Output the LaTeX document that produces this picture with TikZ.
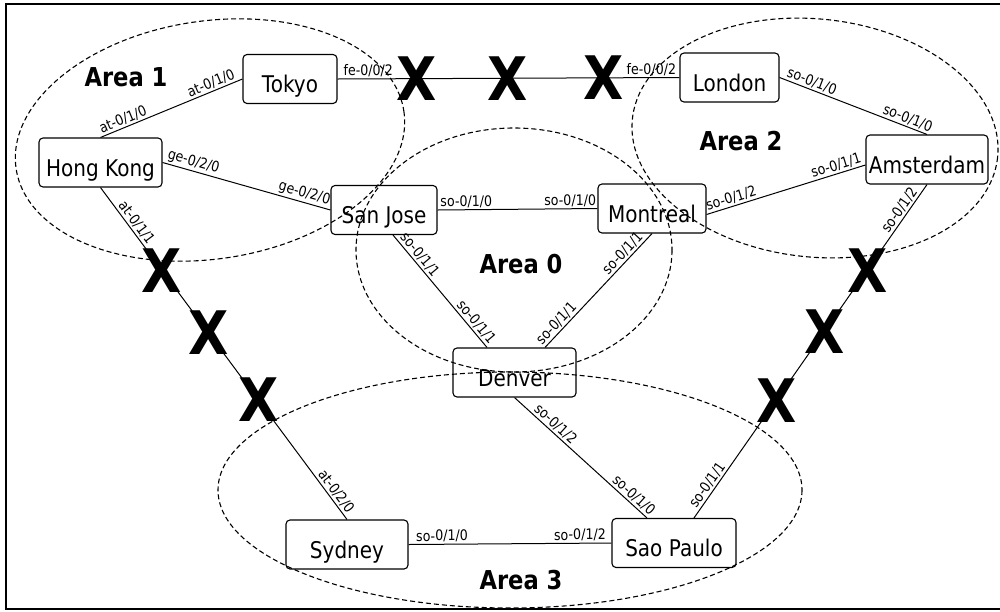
\documentclass[tikz,border=0pt]{standalone}
\usepackage{fontspec}
\setmainfont{DejaVu Sans}[FakeStretch=0.87]
\begin{document}
\begin{tikzpicture}[x=1pt,y=-1pt,
  router/.style={draw, line width=1.1pt, rounded corners=4pt, fill=white,
    minimum height=49pt, inner sep=0pt, text height=27pt, text depth=0pt,
    font=\fontsize{23}{27}\selectfont},
  link/.style={line width=1pt},
  port/.style={sloped, above, inner sep=1.5pt, font=\fontsize{14.5}{16}\selectfont},
  cut/.style={inner sep=0pt, font=\fontsize{60}{60}\selectfont\bfseries},
  area/.style={line width=1.1pt, dash pattern=on 5pt off 3pt},
  areatitle/.style={inner sep=0pt, font=\fontsize{26}{30}\selectfont\bfseries}]
\useasboundingbox (0,0) rectangle (1000,611);

% frame
\draw[line width=2pt] (1002,4) -- (6,4) -- (6,609) -- (1002,609);

% routers
\node[router, minimum width=94pt]  (tokyo)  at (290,79)      {Tokyo};
\node[router, minimum width=99pt]  (london) at (729.5,77.5)  {London};
\node[router, minimum width=123pt] (hk)     at (100.5,162.5) {Hong Kong};
\node[router, minimum width=122pt] (ams)    at (927,159.5)   {Amsterdam};
\node[router, minimum width=106pt] (sj)     at (384,210)     {San Jose};
\node[router, minimum width=108pt] (mon)    at (652,208.5)   {Montreal};
\node[router, minimum width=123pt] (den)    at (514.5,372.5) {Denver};
\node[router, minimum width=122pt] (syd)    at (347,544.5)   {Sydney};
\node[router, minimum width=124pt] (sp)     at (674,543)     {Sao Paulo};

% links
\draw[link] (hk.north) -- node[port,pos=0.18]{at-0/1/0} node[port,pos=0.8]{at-0/1/0} (tokyo.west);
\draw[link] (tokyo.east) -- node[port,pos=0.09]{fe-0/0/2}
  node[cut,pos=0.23] (xa) {X} node[cut,pos=0.4985] (xb) {X} node[cut,pos=0.778] (xc) {X}
  node[port,pos=0.918]{fe-0/0/2} (london.west);
\draw[link] (hk.east) -- node[port,pos=0.17]{ge-0/2/0} node[port,pos=0.83]{ge-0/2/0} (sj.west);
\draw[link] (sj.east) -- node[port,pos=0.18]{so-0/1/0} node[port,pos=0.83]{so-0/1/0} (mon.west);
\draw[link] ([xshift=9pt]sj.south) -- node[port,pos=0.22]{so-0/1/1} node[port,pos=0.82]{so-0/1/1} ([xshift=-27.5pt]den.north);
\draw[link] ([xshift=30.5pt]den.north) -- node[port,pos=0.16]{so-0/1/1} node[port,pos=0.78]{so-0/1/1} (mon.south);
\draw[link] (london.east) -- node[port,pos=0.2]{so-0/1/0} node[port,pos=0.85]{so-0/1/0} (ams.north);
\draw[link] ([yshift=-6pt]mon.east) -- node[port,pos=0.17]{so-0/1/2} node[port,pos=0.83]{so-0/1/1} ([yshift=-5.5pt]ams.west);
\draw[link] ([xshift=20pt]sp.north) -- node[port,pos=0.085]{so-0/1/1}
  node[cut,pos=0.353] (xf) {X} node[cut,pos=0.56] (xe) {X} node[cut,pos=0.743] (xd) {X}
  node[port,pos=0.91]{so-0/1/2} (ams.south);
\draw[link] (den.south) -- node[port,pos=0.27]{so-0/1/2} node[port,pos=0.86]{so-0/1/0} ([xshift=-27pt]sp.north);
\draw[link] (syd.east) -- node[port,pos=0.165]{so-0/1/0} node[port,pos=0.845]{so-0/1/2} (sp.west);
\draw[link] (hk.south) -- node[port,pos=0.12]{at-0/1/1}
  node[cut,pos=0.249] (xg) {X} node[cut,pos=0.438] (xh) {X} node[cut,pos=0.64] (xi) {X}
  node[port,pos=0.93]{at-0/2/0} (syd.north);

% OSPF areas
\draw[area, rotate around={8.4:(210,140)}] (210,140) ellipse [x radius=196, y radius=119];
\draw[area, rotate around={-6:(815,138)}] (815,138) ellipse [x radius=183.6, y radius=119];
\draw[area] (514,250) ellipse [x radius=158, y radius=122];
\draw[area] (510,490) ellipse [x radius=292, y radius=118];

\node[areatitle] (a1) at (126,77.5) {Area 1};
\node[areatitle] (a2) at (741,141) {Area 2};
\node[areatitle] (a0) at (521,264.5) {Area 0};
\node[areatitle] (a3) at (521,580) {Area 3};
\end{tikzpicture}
\end{document}
